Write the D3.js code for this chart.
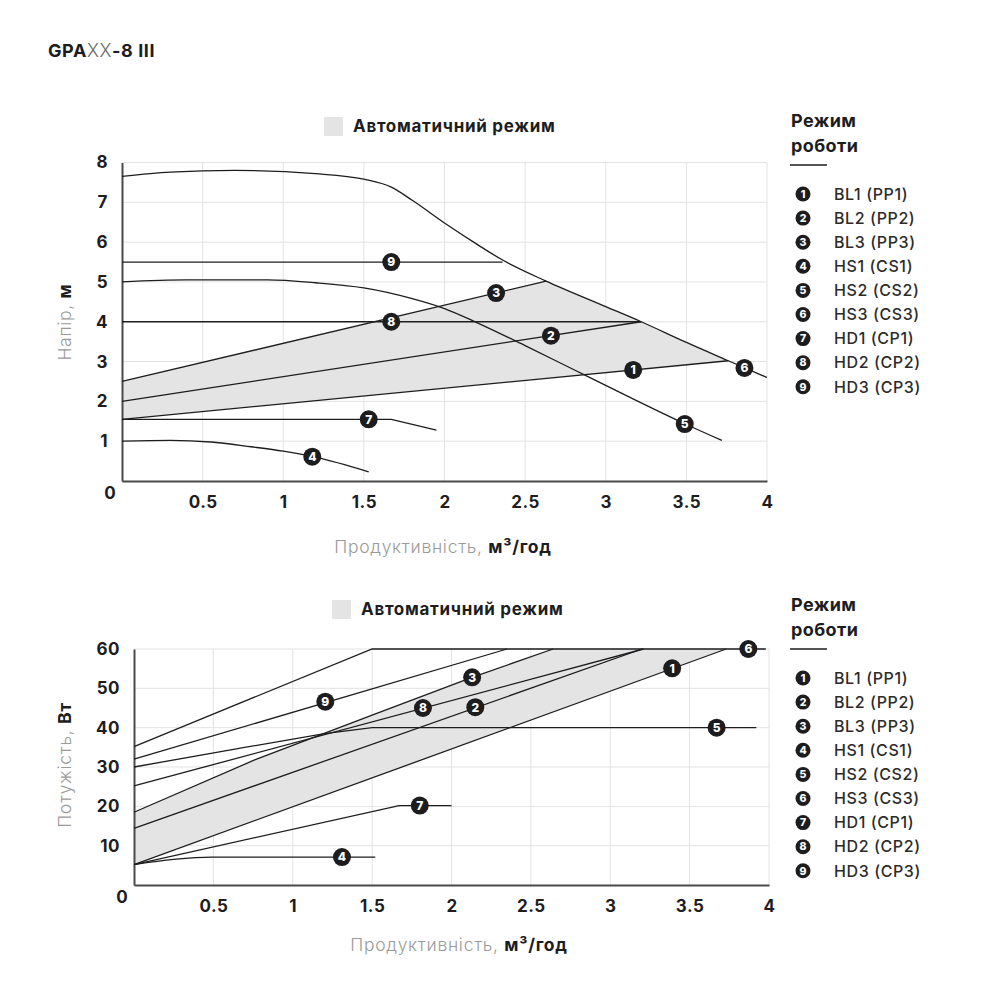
<!DOCTYPE html>
<html><head><meta charset="utf-8">
<script src="https://cdn.jsdelivr.net/npm/d3@7"></script>
<style>body{margin:0;background:#fff}svg{font-family:Inter,"Open Sans",sans-serif}</style>
</head><body><svg id="c" width="1000" height="1000"></svg>
<script>
// ---------- DATA ----------
const modeLabels = ["BL1 (PP1)","BL2 (PP2)","BL3 (PP3)","HS1 (CS1)","HS2 (CS2)","HS3 (CS3)","HD1 (CP1)","HD2 (CP2)","HD3 (CP3)"];
const xTicks = [0.5,1,1.5,2,2.5,3,3.5,4];
const headTicks = [1,2,3,4,5,6,7,8];
const powerTicks = [10,20,30,40,50,60];

// Head curves (Q m3/h, H m)
const headBL1 = [[0,1.55],[3.76,3.02]];
const headBL2 = [[0,2.0],[3.22,4.0]];
const headBL3 = [[0,2.5],[2.63,5.02]];
const headHS1 = [[0,1.0],[0.3,1.02],[0.55,0.98],[0.8,0.86],[1.0,0.75],[1.2,0.6],[1.53,0.23]];
const headHS2 = [[0,5.0],[0.4,5.05],[0.9,5.05],[1.2,4.98],[1.5,4.85],[1.8,4.58],[2.0,4.33],[2.2,3.98],[2.5,3.4],[2.8,2.8],[3.1,2.2],[3.5,1.42],[3.72,1.02]];
const headHS3 = [[0,7.65],[0.3,7.76],[0.7,7.8],[1.2,7.72],[1.5,7.58],[1.67,7.38],[1.8,7.05],[2.0,6.48],[2.2,5.95],[2.36,5.55],[2.63,5.02],[3.0,4.38],[3.22,4.0],[3.5,3.48],[3.76,3.02],[4.0,2.6]];
const headHD1 = [[0,1.55],[1.67,1.55],[1.95,1.28]];
const headHD2 = [[0,4.0],[3.22,4.0]];
const headHD3 = [[0,5.5],[2.36,5.5]];
const headMarkers = [[1,3.17,2.79],[2,2.66,3.65],[3,2.32,4.72],[4,1.18,0.61],[5,3.49,1.43],[6,3.86,2.84],[7,1.53,1.55],[8,1.67,4.0],[9,1.67,5.5]];

// Power curves (Q m3/h, P W)
const powBL1 = [[0,5.2],[3.73,60]];
const powBL2 = [[0,14.4],[3.2,60]];
const powBL3 = [[0,18.5],[0.76,31.8],[1.5,43.2],[2.13,52.8],[2.64,60]];
const powHS1 = [[0,5.2],[0.25,6.5],[0.49,7.1],[1.52,7.1]];
const powHS2 = [[0,30],[0.6,34.3],[1.2,38.5],[1.5,40],[3.92,40]];
const powHS3 = [[0,35.2],[1.5,60],[3.98,60]];
const powHD1 = [[0,5.2],[1.67,20.2],[2.0,20.2]];
const powHD2 = [[0,25.2],[3.21,60]];
const powHD3 = [[0,32],[2.35,60]];
const powMarkers = [[1,3.39,55.1],[2,2.15,45.2],[3,2.13,52.8],[4,1.31,7.1],[5,3.67,40],[6,3.87,60],[7,1.8,20.2],[8,1.82,45.0],[9,1.205,46.6]];

// ---------- DRAW ----------
const svg = d3.select("#c");
const dark = "#1d1d1f", grid = "#e3e3e3", shade = "#e4e4e4", txt = "#2b2b2b";

// title
const t = svg.append("text").attr("x",48).attr("y",57).attr("font-size",18).attr("font-weight",700)
  .attr("letter-spacing",0.6).attr("fill",dark);
t.append("tspan").text("GPA");
t.append("tspan").attr("font-weight",300).attr("fill","#666").text("XX");
t.append("tspan").text("-8 III");

function drawChart(o){
  const g = svg.append("g");
  const x = d3.scaleLinear([0,4],[o.x0,o.x1]);
  const y = d3.scaleLinear([0,o.ymax],[o.y0,o.y1]);
  // grid
  g.append("g").selectAll("line").data(xTicks).join("line")
    .attr("x1",d=>x(d)).attr("x2",d=>x(d)).attr("y1",y(0)).attr("y2",y(o.ymax))
    .attr("stroke",grid).attr("stroke-width",1);
  g.append("g").selectAll("line").data(o.yTicks).join("line")
    .attr("x1",x(0)).attr("x2",x(4)).attr("y1",d=>y(d)).attr("y2",d=>y(d))
    .attr("stroke",grid).attr("stroke-width",1);
  // shaded auto region
  const line = d3.line().x(d=>x(d[0])).y(d=>y(d[1]));
  g.append("path").attr("d",line(o.shadePoly)+"Z").attr("fill",shade).attr("stroke","none");
  // axes
  const ax = g.append("g").attr("transform",`translate(0,${y(0)})`)
    .call(d3.axisBottom(x).tickValues(xTicks).tickSize(0).tickPadding(15).tickFormat(d=>String(d)));
  ax.select(".domain").attr("stroke","#4a4a4a").attr("stroke-width",2);
  ax.selectAll("text").attr("font-size",17).attr("font-weight",700).attr("fill",dark)
    .attr("letter-spacing",0.5).attr("font-family","Inter,sans-serif");
  const ay = g.append("g").attr("transform",`translate(${x(0)},0)`)
    .call(d3.axisLeft(y).tickValues(o.yTicks).tickSize(0).tickPadding(o.ypad).tickFormat(d=>String(d)));
  ay.select(".domain").attr("stroke","#4a4a4a").attr("stroke-width",2);
  ay.selectAll("text").attr("font-size",17).attr("font-weight",700).attr("fill",dark)
    .attr("letter-spacing",0.5).attr("font-family","Inter,sans-serif");
  g.append("text").attr("x",x(0)-12).attr("y",y(0)+18).attr("text-anchor","middle")
    .attr("font-size",17).attr("font-weight",700).attr("fill",dark).text("0");
  // curves
  o.curves.forEach(c=>{
    const ln = d3.line().x(d=>x(d[0])).y(d=>y(d[1])).curve(c.smooth?d3.curveMonotoneX:d3.curveLinear);
    g.append("path").attr("d",ln(c.pts)).attr("fill","none").attr("stroke",dark).attr("stroke-width",1.3);
  });
  // markers
  const m = g.append("g").selectAll("g").data(o.markers).join("g")
    .attr("transform",d=>`translate(${x(d[1])},${y(d[2])})`);
  m.append("circle").attr("r",9).attr("fill",dark);
  m.append("text").attr("text-anchor","middle").attr("dy","0.36em").attr("font-size",12).attr("font-weight",800)
    .attr("fill","#fff").text(d=>d[0]);
  // auto legend
  svg.append("rect").attr("x",o.autoX).attr("y",o.autoY).attr("width",19).attr("height",19).attr("fill",shade);
  svg.append("text").attr("x",o.autoX+29).attr("y",o.autoY+15).attr("font-size",17).attr("font-weight",700)
    .attr("letter-spacing",0.7).attr("fill",dark).text("Автоматичний режим");
  // x title
  const xt = svg.append("text").attr("x",o.xtX).attr("y",o.xtY).attr("text-anchor","middle")
    .attr("font-size",17.5).attr("letter-spacing",0.7);
  xt.append("tspan").attr("fill","#9a9a9a").attr("font-weight",300).text("Продуктивність, ");
  xt.append("tspan").attr("fill",dark).attr("font-weight",700).text("м³/год");
  // y title
  const yt = svg.append("text").attr("transform",`translate(71,${o.ytY}) rotate(-90)`).attr("text-anchor","middle")
    .attr("font-size",17.5).attr("letter-spacing",0.7);
  yt.append("tspan").attr("fill","#9a9a9a").attr("font-weight",300).text(o.yTitle[0]);
  yt.append("tspan").attr("fill",dark).attr("font-weight",700).text(o.yTitle[1]);
  // mode legend
  const L = svg.append("g");
  L.append("text").attr("x",791).attr("y",o.legY).attr("font-size",18).attr("font-weight",700)
    .attr("letter-spacing",0.4).attr("fill",dark).text("Режим");
  L.append("text").attr("x",791).attr("y",o.legY+25).attr("font-size",18).attr("font-weight",700)
    .attr("letter-spacing",0.4).attr("fill",dark).text("роботи");
  L.append("line").attr("x1",790).attr("x2",827).attr("y1",o.legY+38).attr("y2",o.legY+38).attr("stroke",dark).attr("stroke-width",1.5);
  const it = L.selectAll("g.it").data(modeLabels).join("g").attr("class","it")
    .attr("transform",(d,i)=>`translate(0,${o.legY+67+i*24.1})`);
  it.append("circle").attr("cx",803).attr("cy",0).attr("r",7.5).attr("fill",dark);
  it.append("text").attr("x",803).attr("text-anchor","middle").attr("dy","0.36em").attr("font-size",10.5).attr("font-weight",800)
    .attr("fill","#fff").text((d,i)=>i+1);
  it.append("text").attr("x",834).attr("dy","0.36em").attr("font-size",16).attr("font-weight",500)
    .attr("letter-spacing",0.6).attr("fill",txt).text(d=>d);
}

drawChart({
  x0:122,x1:767,y0:481,y1:162.5,ymax:8,yTicks:headTicks,ypad:14,
  shadePoly: headBL1.concat(headHS3.filter(p=>p[0]>2.63&&p[0]<3.76).reverse()).concat(headBL3.slice().reverse()),
  curves:[headBL1,headBL2,headBL3,headHD1,headHD2,headHD3].map(p=>({pts:p})).concat([headHS1,headHS2,headHS3].map(p=>({pts:p,smooth:true}))),
  markers:headMarkers,
  autoX:324,autoY:117,xtX:443,xtY:553,ytY:322,yTitle:["Напір, ","м"],legY:127
});
drawChart({
  x0:134,x1:769,y0:885,y1:649,ymax:60,yTicks:powerTicks,ypad:14,
  shadePoly: powBL1.concat([[2.64,60]]).concat(powBL3.slice().reverse()),
  curves:[powBL1,powBL2,powBL3,powHS2,powHS3,powHD1,powHD2,powHD3].map(p=>({pts:p})).concat([{pts:powHS1,smooth:true}]),
  markers:powMarkers,
  autoX:332,autoY:600,xtX:459,xtY:951,ytY:765,yTitle:["Потужість, ","Вт"],legY:611
});
</script></body></html>
